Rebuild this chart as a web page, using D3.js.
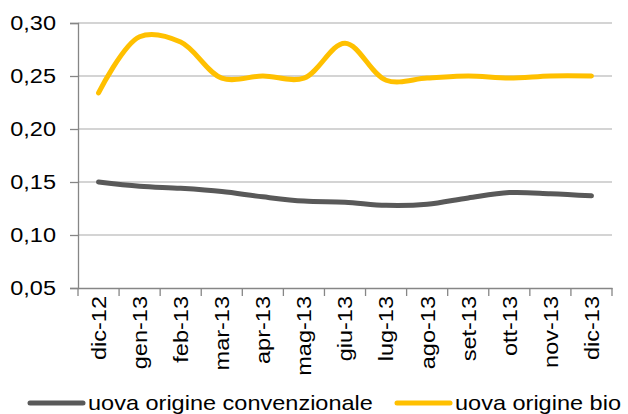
<!DOCTYPE html>
<html>
<head>
<meta charset="utf-8">
<script src="https://cdn.jsdelivr.net/npm/d3@7"></script>
<style>
  body { margin: 0; background: #fff; }
  svg { display: block; font-family: "Liberation Sans", Arial, sans-serif; }
</style>
</head>
<body>
<svg id="chart"></svg>
<script>
// DATA
const mesi = ["dic-12", "gen-13", "feb-13", "mar-13", "apr-13", "mag-13", "giu-13",
	"lug-13", "ago-13", "set-13", "ott-13", "nov-13", "dic-13"];
const convenzionale = [0.150, 0.146, 0.144, 0.141, 0.136, 0.132, 0.131, 0.128, 0.129, 0.135, 0.140, 0.139, 0.137];
const bio = [0.234, 0.287, 0.282, 0.248, 0.250, 0.248, 0.281, 0.246, 0.248, 0.250, 0.248, 0.250, 0.250];
const yTicks = [0.05, 0.10, 0.15, 0.20, 0.25, 0.30];

const series = [
	{name: "uova origine convenzionale", values: convenzionale, color: "#595959"},
	{name: "uova origine bio", values: bio, color: "#FFC000"}
];

const width = 628, height = 414;
const margin = {top: 23, right: 16, bottom: 126, left: 78};
const w = width - margin.left - margin.right,
	h = height - margin.top - margin.bottom;

// text in the original is a bit wider than Liberation Sans
const fontSize = "21px";
const stretch = 1.12;

const svg = d3.select("#chart").attr("width", width).attr("height", height);
const g = svg.append("g").attr("transform", "translate(" + margin.left + "," + margin.top + ")");

const x = d3.scaleBand().domain(mesi).range([0, w]);
const y = d3.scaleLinear().domain([0.05, 0.30]).range([h, 0]);

const fmt = d => d3.format(".2f")(d).replace(".", ",");

// grid
g.append("g")
	.selectAll("line")
	.data(yTicks.slice(1))
	.join("line")
	.attr("x1", 0).attr("x2", w)
	.attr("y1", d => y(d)).attr("y2", d => y(d))
	.attr("stroke", "#c6c6c6").attr("stroke-width", 1.3);

// y axis
const yAxis = g.append("g")
	.call(d3.axisLeft(y).tickValues(yTicks).tickSize(8).tickFormat(fmt));
yAxis.select(".domain").attr("stroke", "#868686").attr("stroke-width", 1.3);
yAxis.selectAll(".tick line").attr("stroke", "#868686").attr("stroke-width", 1.3);
yAxis.selectAll(".tick text")
	.attr("x", 0)
	.attr("transform", "translate(-22,0) scale(" + stretch + ",1)")
	.attr("fill", "#000")
	.style("font-size", fontSize);

// x axis
const xAxis = g.append("g")
	.attr("transform", "translate(0," + h + ")")
	.call(d3.axisBottom(x).tickSize(0));
xAxis.select(".domain").attr("stroke", "#868686").attr("stroke-width", 1.3);
xAxis.selectAll(".tick text")
	.attr("transform", "rotate(-90) translate(-8,0) scale(" + stretch + ",1)")
	.attr("x", 0)
	.attr("y", 0)
	.attr("dy", "0.35em")
	.attr("text-anchor", "end")
	.attr("fill", "#000")
	.style("font-size", fontSize);

// x tick marks on band edges
g.append("g")
	.selectAll("line")
	.data(d3.range(mesi.length + 1))
	.join("line")
	.attr("x1", i => i * x.step()).attr("x2", i => i * x.step())
	.attr("y1", h).attr("y2", h + 8)
	.attr("stroke", "#868686").attr("stroke-width", 1.3);

// lines
const line = d3.line()
	.x((d, i) => x(mesi[i]) + x.bandwidth() / 2)
	.y(d => y(d))
	.curve(d3.curveCatmullRom.alpha(0.5));

g.selectAll(".serie")
	.data(series)
	.join("path")
	.attr("class", "serie")
	.attr("d", d => line(d.values))
	.attr("fill", "none")
	.attr("stroke", d => d.color)
	.attr("stroke-width", 5)
	.attr("stroke-linecap", "round");

// legend
const legend = svg.append("g").attr("transform", "translate(0,403)");
const legendX = [30, 397];
series.forEach(function(s, i) {
	legend.append("line")
		.attr("x1", legendX[i]).attr("x2", legendX[i] + 53)
		.attr("y1", 0).attr("y2", 0)
		.attr("stroke", s.color).attr("stroke-width", 5)
		.attr("stroke-linecap", "round");
	legend.append("text")
		.attr("transform", "translate(" + (legendX[i] + 58) + ",0) scale(" + stretch + ",1)")
		.attr("dy", "0.35em")
		.style("font-size", fontSize)
		.text(s.name);
});
</script>
</body>
</html>
